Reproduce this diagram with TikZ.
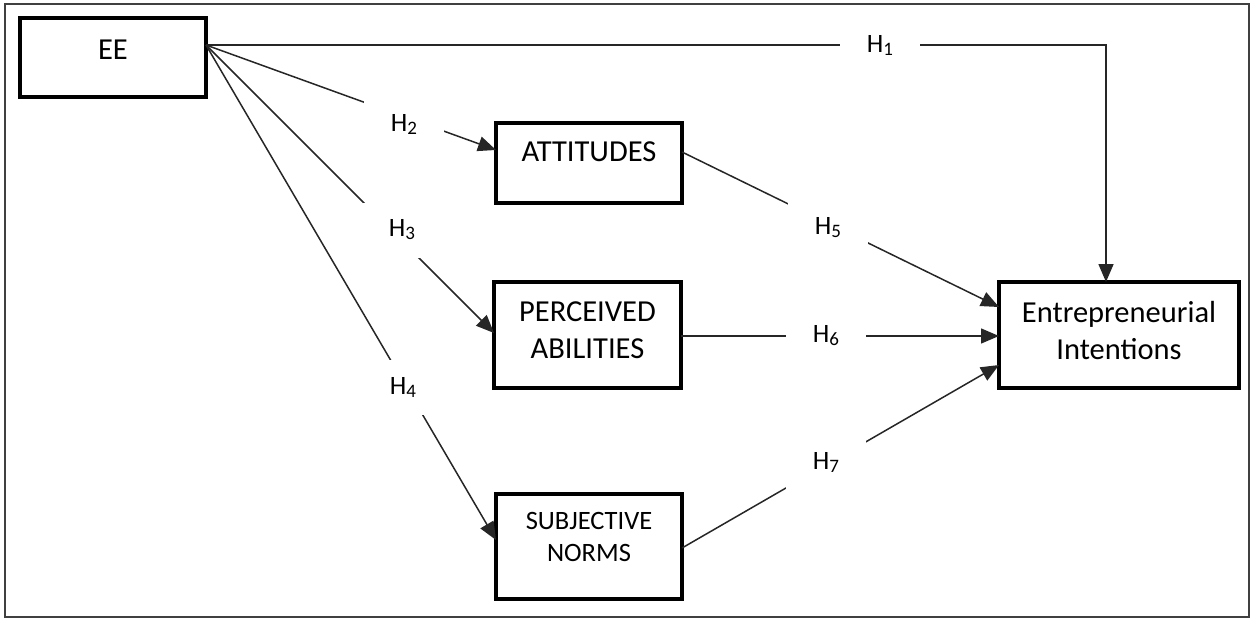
\documentclass[tikz,border=0pt]{standalone}
\usepackage{fontspec}
\setmainfont{Carlito}
\usetikzlibrary{arrows.meta}
% hypothesis label: H with a lowered, smaller index
\newcommand{\hyplab}[1]{H\raisebox{-3pt}{\fontsize{19}{19}\selectfont #1}}
\begin{document}
\begin{tikzpicture}[x=1pt,y=-1pt,
  box/.style={draw=black, line width=3.2pt, inner sep=0pt, outer sep=0pt},
  link/.style={draw=black!85, line width=1.5pt, -{Triangle[length=18pt,width=15pt]}},
  hyp/.style={fill=white, minimum width=80pt, minimum height=55pt, inner sep=0pt,
              font=\fontsize{26.5}{30}\selectfont},
  big/.style={font=\fontsize{30.5}{37}\selectfont, align=center, inner sep=0pt},
  small/.style={font=\fontsize{26.5}{32}\selectfont, align=center, inner sep=0pt}]

\useasboundingbox (0,0) rectangle (1253,619);
% outer frame
\draw[black!75, line width=1.6pt] (5,4) rectangle (1249,617);

% constructs
\node[box, minimum width=186pt, minimum height=79pt] (EE) at (113,57.5) {};
\node[big] (EEtext) at ([yshift=7.5pt]EE.center) {EE};

\node[box, minimum width=186pt, minimum height=80pt] (ATT) at (589,163) {};
\node[big] (ATTtext) at ([yshift=11pt]ATT.center) {ATTITUDES};

\node[box, minimum width=187pt, minimum height=106pt] (PA) at (587.5,335) {};
\node[big] (PAtext) at ([yshift=4.5pt]PA.center) {PERCEIVED\\ABILITIES};

\node[box, minimum width=186pt, minimum height=105pt] (SN) at (589,546.5) {};
\node[small] (SNtext) at ([yshift=9.5pt]SN.center) {SUBJECTIVE\\NORMS};

\node[box, minimum width=240pt, minimum height=106pt] (EI) at (1119,335) {};
\node[big] (EItext) at ([yshift=4pt]EI.center) {Entrepreneurial\\Intentions};

% paths
\draw[link] ([yshift=12.5pt]EE.east) -| ([xshift=-13pt]EI.north);
\draw[link] ([yshift=12.5pt]EE.east) -- ([yshift=13pt]ATT.west);
\draw[link] ([yshift=12.5pt]EE.east) -- ([yshift=2pt]PA.west);
\draw[link] ([yshift=12.5pt]EE.east) -- ([yshift=6.5pt]SN.west);
\draw[link] ([yshift=11pt]ATT.east) -- ([yshift=28pt]EI.west);
\draw[link] ([yshift=-1pt]PA.east) -- ([yshift=-1pt]EI.west);
\draw[link] ([yshift=-1.5pt]SN.east) -- ([yshift=-30pt]EI.west);

% hypothesis labels, each interrupting its path
\node[hyp] (H1) at (880,45)  {\hyplab{1}};
\node[hyp] (H2) at (404,124) {\hyplab{2}};
\node[hyp] (H3) at (402,230) {\hyplab{3}};
\node[hyp] (H4) at (403,387) {\hyplab{4}};
\node[hyp] (H5) at (828,228) {\hyplab{5}};
\node[hyp] (H6) at (826,336) {\hyplab{6}};
\node[hyp] (H7) at (826,462) {\hyplab{7}};
\end{tikzpicture}
\end{document}
